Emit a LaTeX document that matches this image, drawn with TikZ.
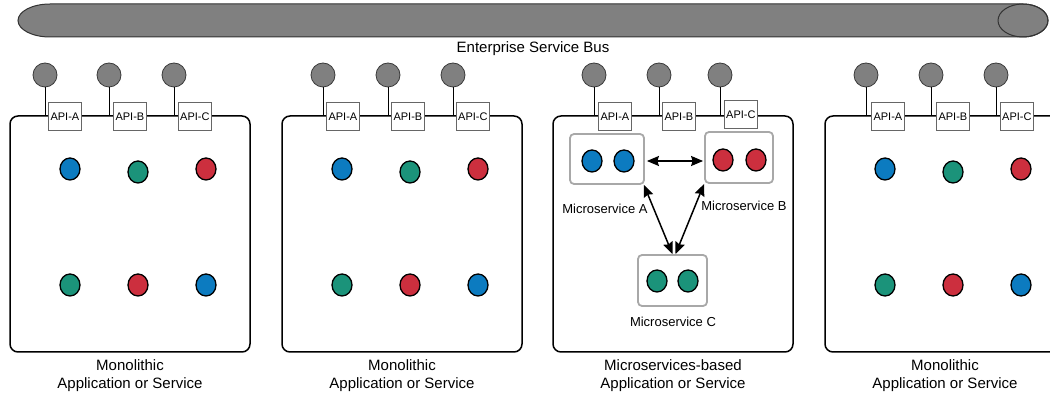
\documentclass[tikz,border=0pt]{standalone}
\usepackage{fontspec}
\setmainfont{Liberation Sans}
\usetikzlibrary{arrows.meta,shapes.geometric}

\definecolor{busgray}{HTML}{808080}
\definecolor{busedge}{HTML}{333333}
\definecolor{portgray}{HTML}{808080}
\definecolor{portedge}{HTML}{3A3A3A}
\definecolor{apiedge}{HTML}{666666}
\definecolor{svcgray}{HTML}{A8A8A8}
\definecolor{cblue}{HTML}{0C7BC0}
\definecolor{cgreen}{HTML}{1B937A}
\definecolor{cred}{HTML}{CC2F3E}

\tikzset{
  appbox/.style={draw, line width=1.5pt, rounded corners=8pt, minimum width=240pt,
    minimum height=236pt, inner sep=0pt},
  port/.style={circle, draw=portedge, fill=portgray, line width=0.8pt,
    minimum size=24pt, inner sep=0pt},
  wire/.style={line width=1pt, draw=black},
  api/.style={draw=apiedge, fill=white, line width=0.8pt, minimum width=33pt,
    minimum height=28pt, inner sep=0pt, anchor=north west,
    font=\fontsize{11}{12}\selectfont},
  dot/.style={ellipse, draw=black, line width=1.3pt, minimum width=20pt,
    minimum height=22pt, inner sep=0pt},
  svcbox/.style={draw=svcgray, line width=1.8pt, rounded corners=4pt, fill=white,
    inner sep=0pt},
  svclabel/.style={font=\fontsize{13}{15}\selectfont},
  link/.style={line width=1.5pt,
    {Stealth[length=12pt,width=10pt,inset=1.5pt]}-{Stealth[length=12pt,width=10pt,inset=1.5pt]}},
  caption/.style={align=center, font=\fontsize{15}{18}\selectfont},
}

\begin{document}
\begin{tikzpicture}[x=1pt,y=-1pt]
\clip (0,0) rectangle (1050,395);
\fill[white] (0,0) rectangle (1050,395);

% enterprise service bus (horizontal cylinder)
\draw[fill=busgray, draw=busedge, line width=1pt]
  (50,4) -- (1023,4)
  arc[start angle=-90, end angle=90, x radius=25, y radius=16.5]
  -- (50,37)
  arc[start angle=90, end angle=270, x radius=32, y radius=16.5] -- cycle;
\draw[draw=busedge, line width=1pt] (1023,20.5) ellipse[x radius=25, y radius=16.5];
\node[font=\fontsize{15}{18}\selectfont] (bus) at (533,49) {Enterprise Service Bus};

% application containers
\node[appbox] (app1) at (130,234) {};
\node[appbox] (app2) at (402,234) {};
\node[appbox] (app3) at (673,234) {};
\node[appbox] (app4) at (945,234) {};

% bus ports and API endpoints
\foreach \idx/\pa/\pb/\pc/\aa/\ab/\ac/\cy in
  {1/45/109/174/48/113/178/102, 2/323/388/453/326/391/456/102,
   3/594/659/720/598/662/724/100, 4/866/931/996/871/936/1000/102}{
  \foreach \px/\ax/\ay/\nm in {\pa/\aa/102/A, \pb/\ab/102/B, \pc/\ac/\cy/C}{
    \node[port] (p\idx\nm) at (\px,75) {};
    \draw[wire] (p\idx\nm) -- (p\idx\nm |- app\idx.north);
    \node[api] (api\idx\nm) at (\ax,\ay) {API-\nm};
  }
}

% monolithic internals
\foreach \idx/\lx in {1/10, 2/282, 4/825}{
  \node[dot, fill=cblue]  (d\idx a) at (\lx+60,169) {};
  \node[dot, fill=cgreen] (d\idx b) at (\lx+128,172) {};
  \node[dot, fill=cred]   (d\idx c) at (\lx+196,169) {};
  \node[dot, fill=cgreen] (d\idx d) at (\lx+60,285) {};
  \node[dot, fill=cred]   (d\idx e) at (\lx+128,285) {};
  \node[dot, fill=cblue]  (d\idx f) at (\lx+196,285) {};
}

% microservices
\node[svcbox, minimum width=74pt, minimum height=50pt] (msA) at (607,159) {};
\node[svcbox, minimum width=68pt, minimum height=51pt] (msB) at (739,157.5) {};
\node[svcbox, minimum width=69pt, minimum height=51pt] (msC) at (672.5,280.5) {};
\node[dot, fill=cblue]  (dA1) at (592,161) {};
\node[dot, fill=cblue]  (dA2) at (624,161) {};
\node[dot, fill=cred]   (dB1) at (723,160) {};
\node[dot, fill=cred]   (dB2) at (756,160) {};
\node[dot, fill=cgreen] (dC1) at (657,281) {};
\node[dot, fill=cgreen] (dC2) at (688,281) {};
\node[svclabel] (lA) at (605,209) {Microservice A};
\node[svclabel] (lB) at (744,206) {Microservice B};
\node[svclabel] (lC) at (673,322) {Microservice C};

\coordinate (hA) at (msA.east |- dA2);
\coordinate (hB) at (msB.west |- dA2);
\draw[link] ([xshift=2pt]hA) -- ([xshift=-1pt]hB);
\draw[link] ([xshift=-1pt]msA.south east) -- (msC.north);
\draw[link] (msB.south west) -- ([xshift=3pt]msC.north);

% captions
\node[caption] (c1) at (130,376) {Monolithic\\Application or Service};
\node[caption] (c2) at (402,376) {Monolithic\\Application or Service};
\node[caption] (c3) at (673,376) {Microservices-based\\Application or Service};
\node[caption] (c4) at (945,376) {Monolithic\\Application or Service};
\end{tikzpicture}
\end{document}
